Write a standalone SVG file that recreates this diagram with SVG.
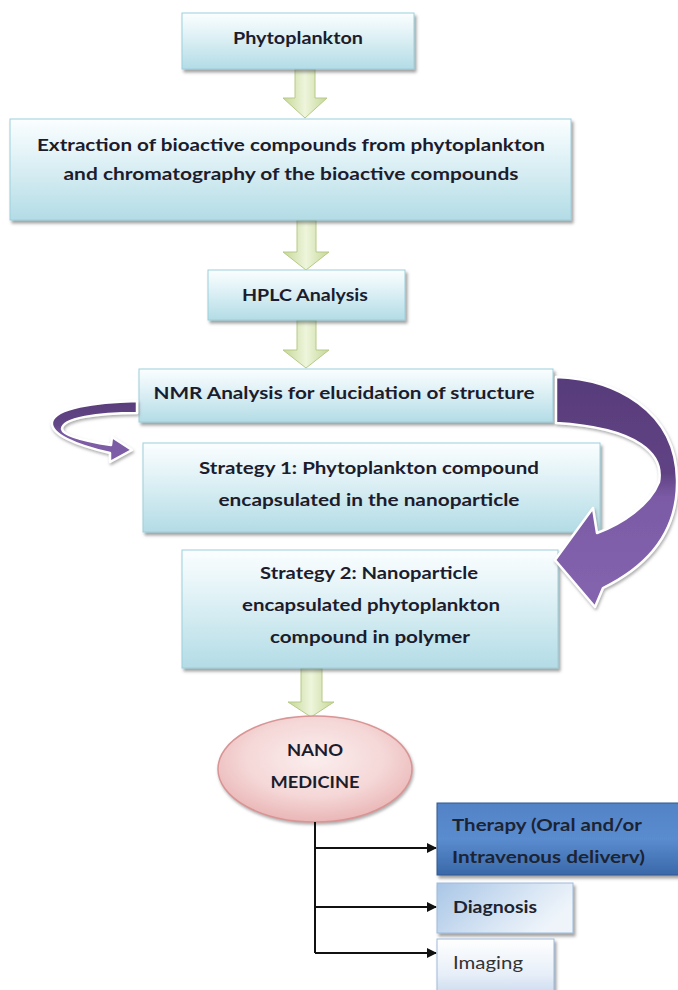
<svg xmlns="http://www.w3.org/2000/svg" width="678" height="990" viewBox="0 0 678 990">
  <defs>
    <linearGradient id="boxFill" x1="0" y1="0" x2="0" y2="1">
      <stop offset="0" stop-color="#fbfeff"/>
      <stop offset="0.35" stop-color="#e3f3f7"/>
      <stop offset="1" stop-color="#b3dce6"/>
    </linearGradient>
    <linearGradient id="greenFill" x1="0" y1="0" x2="1" y2="0">
      <stop offset="0" stop-color="#c5d796"/>
      <stop offset="0.5" stop-color="#eef5dc"/>
      <stop offset="1" stop-color="#c5d796"/>
    </linearGradient>
    <linearGradient id="bigPurple" gradientUnits="userSpaceOnUse" x1="0" y1="377" x2="0" y2="607">
      <stop offset="0" stop-color="#583b7a"/>
      <stop offset="0.42" stop-color="#604384"/>
      <stop offset="0.52" stop-color="#7b5aa5"/>
      <stop offset="1" stop-color="#8465ae"/>
    </linearGradient>
    <linearGradient id="smallPurple" gradientUnits="userSpaceOnUse" x1="0" y1="401" x2="0" y2="463">
      <stop offset="0" stop-color="#593d7b"/>
      <stop offset="0.4" stop-color="#634687"/>
      <stop offset="0.55" stop-color="#7a59a3"/>
      <stop offset="1" stop-color="#7f5fa8"/>
    </linearGradient>
    <radialGradient id="pinkFill" cx="0.5" cy="0.4" r="0.6">
      <stop offset="0" stop-color="#fbeeee"/>
      <stop offset="0.6" stop-color="#f5d7d7"/>
      <stop offset="1" stop-color="#eab6b6"/>
    </radialGradient>
    <linearGradient id="therapyFill" x1="0" y1="0" x2="0" y2="1">
      <stop offset="0" stop-color="#5283c6"/>
      <stop offset="0.5" stop-color="#5a8ccf"/>
      <stop offset="1" stop-color="#3a68a8"/>
    </linearGradient>
    <linearGradient id="diagFill" x1="0" y1="0" x2="1" y2="0.4">
      <stop offset="0" stop-color="#a9c6e6"/>
      <stop offset="0.6" stop-color="#d4e3f3"/>
      <stop offset="1" stop-color="#eef4fa"/>
    </linearGradient>
    <linearGradient id="imgFill" x1="0" y1="0" x2="0" y2="1">
      <stop offset="0" stop-color="#ffffff"/>
      <stop offset="0.6" stop-color="#e6eef8"/>
      <stop offset="1" stop-color="#c4d6ec"/>
    </linearGradient>
    <filter id="shadow" x="-10%" y="-10%" width="130%" height="140%">
      <feDropShadow dx="2" dy="3" stdDeviation="1.5" flood-color="#555" flood-opacity="0.55"/>
    </filter>
    <filter id="softShadow" x="-10%" y="-10%" width="130%" height="130%">
      <feDropShadow dx="1" dy="2" stdDeviation="1.5" flood-color="#777" flood-opacity="0.6"/>
    </filter>
    <marker id="arrowHead" viewBox="0 0 10 10" refX="9" refY="5" markerWidth="5" markerHeight="5" orient="auto" markerUnits="strokeWidth">
      <path d="M0,0 L10,5 L0,10 Z" fill="#111"/>
    </marker>
    <style>
      .box { fill: url(#boxFill); stroke: #9ccfdc; stroke-width: 1; filter: url(#shadow); }
      .green { fill: url(#greenFill); stroke: #b6ca88; stroke-width: 1; }
      .lbl { font-family: Lato, "Liberation Sans", sans-serif; font-weight: 700; font-size: 17.5px; fill: #1c1c2c; text-anchor: middle; }
      .lbl-left { font-family: Lato, "Liberation Sans", sans-serif; font-weight: 700; font-size: 17.5px; fill: #1c2433; }
      .conn { stroke: #111; stroke-width: 2; fill: none; }
      .ribbon { stroke: #ffffff; stroke-width: 2.5; stroke-linejoin: round; filter: url(#softShadow); }
    </style>
  </defs>

  <!-- flow arrows between the process boxes -->
  <g id="flow-arrows">
    <path class="green" d="M295,69 H315 V98 H327 L305,118 L283,98 H295 Z"/>
    <path class="green" d="M297,220 H316 V252 H329 L306,270 L283,252 H297 Z"/>
    <path class="green" d="M297,320 H316 V350 H329 L306,368 L283,350 H297 Z"/>
    <path class="green" d="M301,668 H322 V702 H334 L311,717 L288,702 H301 Z"/>
  </g>

  <g id="phytoplankton">
    <rect class="box" x="182" y="13" width="232" height="56"/>
    <text class="lbl" x="298" y="44" textLength="130" lengthAdjust="spacingAndGlyphs">Phytoplankton</text>
  </g>

  <g id="extraction">
    <rect class="box" x="10" y="119" width="561" height="101"/>
    <text class="lbl" x="291" y="151" textLength="508" lengthAdjust="spacingAndGlyphs">Extraction of bioactive compounds from phytoplankton</text>
    <text class="lbl" x="291" y="180" textLength="455" lengthAdjust="spacingAndGlyphs">and chromatography of the bioactive compounds</text>
  </g>

  <g id="hplc">
    <rect class="box" x="208" y="270" width="197" height="50"/>
    <text class="lbl" x="305" y="301" textLength="126" lengthAdjust="spacingAndGlyphs">HPLC Analysis</text>
  </g>

  <g id="nmr">
    <rect class="box" x="139" y="369" width="414" height="53"/>
    <text class="lbl" x="344" y="399" textLength="381" lengthAdjust="spacingAndGlyphs">NMR Analysis for elucidation of structure</text>
  </g>

  <g id="strategy1">
    <rect class="box" x="143" y="443" width="457" height="89"/>
    <text class="lbl" x="369" y="474" textLength="340" lengthAdjust="spacingAndGlyphs">Strategy 1: Phytoplankton compound</text>
    <text class="lbl" x="369" y="506" textLength="301" lengthAdjust="spacingAndGlyphs">encapsulated in the nanoparticle</text>
  </g>

  <g id="strategy2">
    <rect class="box" x="182" y="550" width="376" height="118"/>
    <text class="lbl" x="369" y="579" textLength="218" lengthAdjust="spacingAndGlyphs">Strategy 2: Nanoparticle</text>
    <text class="lbl" x="371" y="611" textLength="258" lengthAdjust="spacingAndGlyphs">encapsulated phytoplankton</text>
    <text class="lbl" x="370" y="643" textLength="200" lengthAdjust="spacingAndGlyphs">compound in polymer</text>
  </g>

  <!-- curved ribbons leading from the NMR step to both strategies -->
  <g id="curved-arrows">
    <path class="ribbon" fill="url(#smallPurple)" d="M137,401 C95,402 55,408 52,422 C50,434 75,445 110,453 L110,462 L132,450 L112,437 L111,445 C85,441 63,436 62,429 C62,418 98,413 137,413 Z"/>
    <path class="ribbon" fill="url(#bigPurple)" d="M556,377 C615,379 676,410 677,480 C678,530 650,565 603,588 L595,607 L555,560 L593,508 L597,533 C622,524 650,505 659,482 C664,455 640,428 556,423 Z"/>
  </g>

  <g id="nanomedicine">
    <ellipse cx="315" cy="769" rx="97" ry="53" fill="url(#pinkFill)" stroke="#d99595" stroke-width="1.5" filter="url(#softShadow)"/>
    <text class="lbl" x="315" y="756" textLength="56" lengthAdjust="spacingAndGlyphs">NANO</text>
    <text class="lbl" x="315" y="788" textLength="89" lengthAdjust="spacingAndGlyphs">MEDICINE</text>
  </g>

  <g id="connectors">
    <path class="conn" d="M315,822 V953"/>
    <path class="conn" d="M315,848 H436" marker-end="url(#arrowHead)"/>
    <path class="conn" d="M315,907 H436" marker-end="url(#arrowHead)"/>
    <path class="conn" d="M315,953 H436" marker-end="url(#arrowHead)"/>
  </g>

  <g id="therapy">
    <rect x="437" y="803" width="250" height="72" fill="url(#therapyFill)" stroke="#2f5a92" stroke-width="1" filter="url(#shadow)"/>
    <text class="lbl-left" x="452" y="831" textLength="190" lengthAdjust="spacingAndGlyphs">Therapy (Oral  and/or</text>
    <text class="lbl-left" x="452" y="863" textLength="193" lengthAdjust="spacingAndGlyphs">Intravenous deliverv)</text>
  </g>

  <g id="diagnosis">
    <rect x="437" y="883" width="136" height="50" fill="url(#diagFill)" stroke="#9dbadc" stroke-width="1" filter="url(#shadow)"/>
    <text class="lbl-left" x="453" y="913" textLength="84" lengthAdjust="spacingAndGlyphs">Diagnosis</text>
  </g>

  <g id="imaging">
    <rect x="437" y="939" width="117" height="60" fill="url(#imgFill)" stroke="#9dbadc" stroke-width="1" filter="url(#shadow)"/>
    <text class="lbl-left" x="453" y="969" textLength="70" lengthAdjust="spacingAndGlyphs" style="font-weight:400;fill:#333">Imaging</text>
  </g>
</svg>
